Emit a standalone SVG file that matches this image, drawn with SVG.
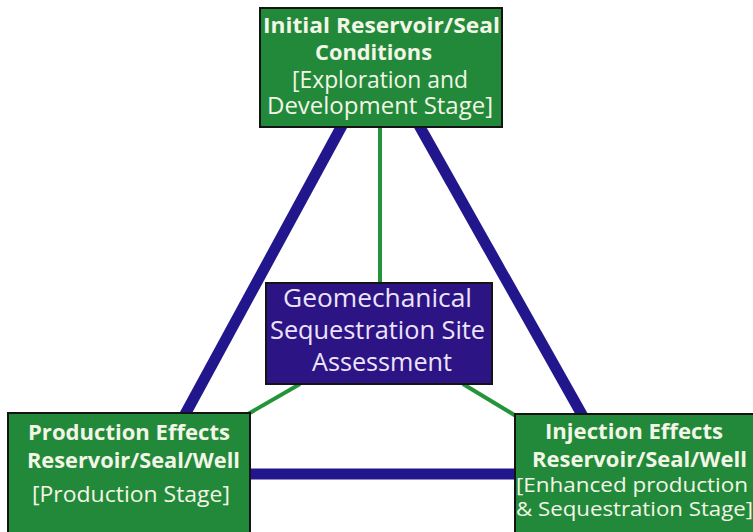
<svg xmlns="http://www.w3.org/2000/svg" width="753" height="532" viewBox="0 0 753 532">
<style>
.box{fill:#22893a;stroke:#141414;stroke-width:2}
.cbox{fill:#2c1485;stroke:#141414;stroke-width:2}
.blue{stroke:#22168c;stroke-width:11;fill:none}
.green{stroke:#23943a;stroke-width:4;fill:none}
.t{font-family:"Open Sans","Liberation Sans",sans-serif;fill:#f2f6e6}
.b{font-weight:700}
.c{font-family:"Open Sans","Liberation Sans",sans-serif;fill:#ece4fa}
</style>
<rect width="753" height="532" fill="#ffffff"/>
<g id="connectors">
<line class="blue" x1="345" y1="120" x2="182" y2="420"/>
<line class="blue" x1="416" y1="120" x2="585" y2="420"/>
<line class="blue" x1="245" y1="474" x2="520" y2="474"/>
<line class="green" x1="380" y1="125" x2="380" y2="285"/>
<line class="green" x1="300" y1="384" x2="248" y2="414"/>
<line class="green" x1="463" y1="384" x2="516" y2="416"/>
</g>
<g id="top">
<rect class="box" x="260" y="8" width="242" height="119"/>
<text class="t b" x="263" y="33" font-size="22" textLength="237" lengthAdjust="spacingAndGlyphs">Initial Reservoir/Seal</text>
<text class="t b" x="315" y="60" font-size="22" textLength="117" lengthAdjust="spacingAndGlyphs">Conditions</text>
<text class="t" x="292" y="88" font-size="23" textLength="176" lengthAdjust="spacingAndGlyphs">[Exploration and</text>
<text class="t" x="267" y="114" font-size="23" textLength="226" lengthAdjust="spacingAndGlyphs">Development Stage]</text>
</g>
<g id="center">
<rect class="cbox" x="266" y="283" width="226" height="101"/>
<text class="c" x="283" y="307" font-size="25" textLength="189" lengthAdjust="spacingAndGlyphs">Geomechanical</text>
<text class="c" x="270" y="339" font-size="25" textLength="215" lengthAdjust="spacingAndGlyphs">Sequestration Site</text>
<text class="c" x="312" y="371" font-size="25" textLength="140" lengthAdjust="spacingAndGlyphs">Assessment</text>
</g>
<g id="production">
<rect class="box" x="8" y="413" width="242" height="130"/>
<text class="t b" x="28" y="440" font-size="21" textLength="202" lengthAdjust="spacingAndGlyphs">Production Effects</text>
<text class="t b" x="27" y="468" font-size="21" textLength="213" lengthAdjust="spacingAndGlyphs">Reservoir/Seal/Well</text>
<text class="t" x="32" y="502" font-size="21" textLength="198" lengthAdjust="spacingAndGlyphs">[Production Stage]</text>
</g>
<g id="injection">
<rect class="box" x="515" y="414" width="250" height="130"/>
<text class="t b" x="545" y="439" font-size="21" textLength="178" lengthAdjust="spacingAndGlyphs">Injection Effects</text>
<text class="t b" x="532" y="467" font-size="21" textLength="215" lengthAdjust="spacingAndGlyphs">Reservoir/Seal/Well</text>
<text class="t" x="516" y="492" font-size="20" textLength="232" lengthAdjust="spacingAndGlyphs">[Enhanced production</text>
<text class="t" x="516" y="516" font-size="20" textLength="237" lengthAdjust="spacingAndGlyphs">&amp; Sequestration Stage]</text>
</g>
</svg>
